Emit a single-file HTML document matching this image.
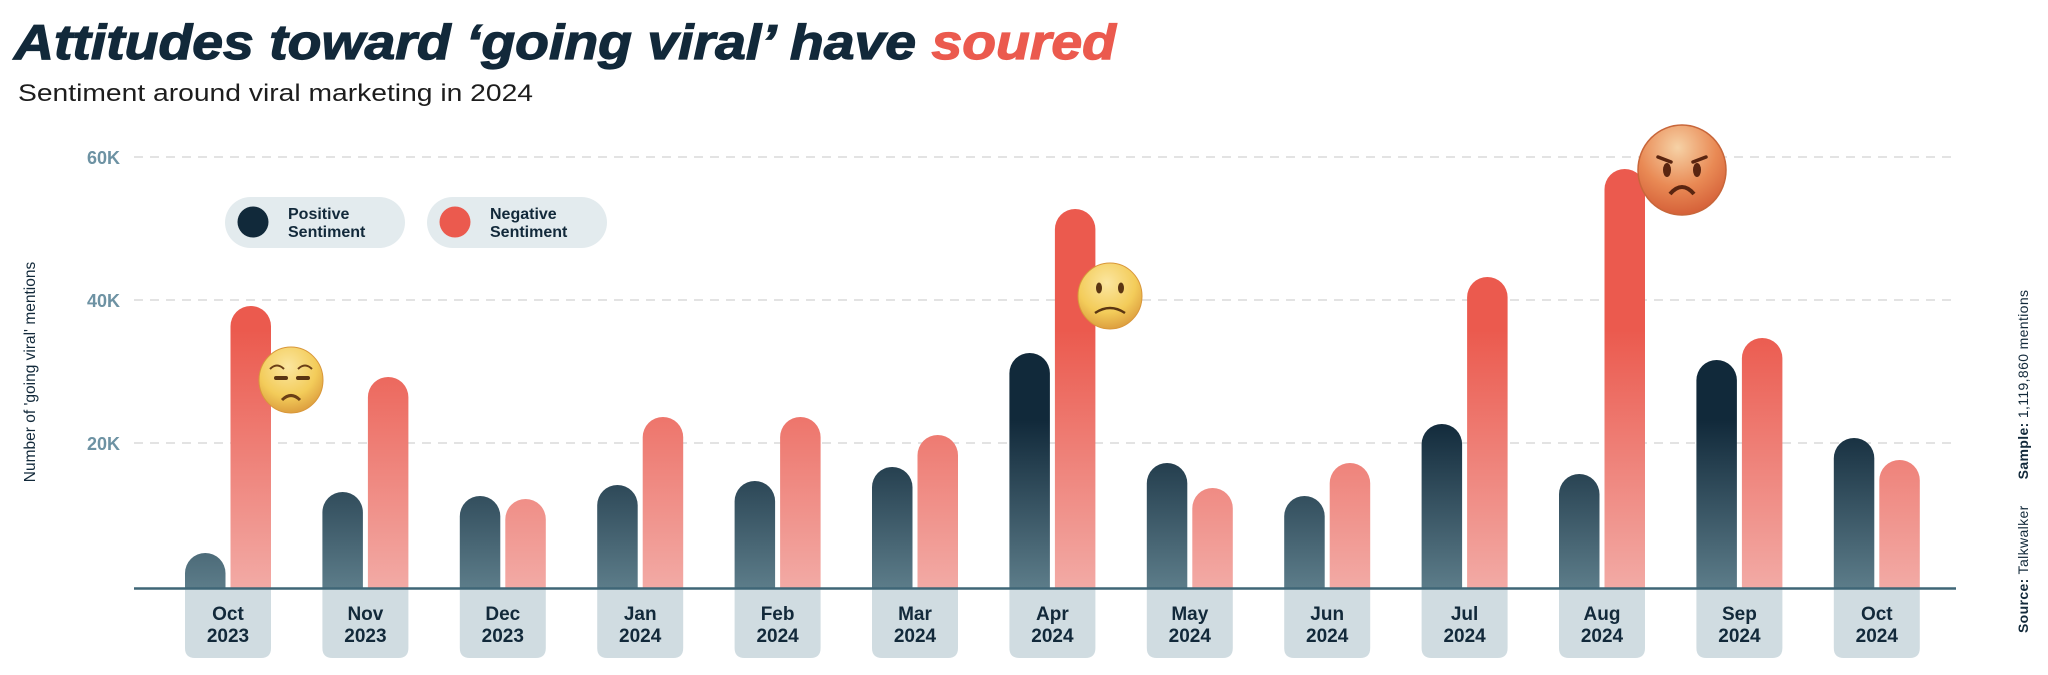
<!DOCTYPE html>
<html><head><meta charset="utf-8"><style>
html,body{margin:0;padding:0;background:#fff;}
svg{display:block;}
text{font-family:"Liberation Sans",sans-serif;}
</style></head><body>
<svg width="2048" height="675" viewBox="0 0 2048 675" xmlns="http://www.w3.org/2000/svg">
<defs>
<linearGradient id="gp" gradientUnits="userSpaceOnUse" x1="0" y1="420" x2="0" y2="588">
<stop offset="0" stop-color="#11293a"/><stop offset="1" stop-color="#5c7c89"/></linearGradient>
<linearGradient id="gn" gradientUnits="userSpaceOnUse" x1="0" y1="330" x2="0" y2="588">
<stop offset="0" stop-color="#eb5a4e"/><stop offset="1" stop-color="#f2aaa5"/></linearGradient>
<radialGradient id="ey" cx="0.45" cy="0.3" r="0.75"><stop offset="0" stop-color="#fbe6a0"/><stop offset="0.6" stop-color="#f3cc5a"/><stop offset="1" stop-color="#d9973a"/></radialGradient>
<radialGradient id="ea" cx="0.45" cy="0.25" r="0.8"><stop offset="0" stop-color="#f6d2a6"/><stop offset="0.55" stop-color="#e98a55"/><stop offset="1" stop-color="#d25a34"/></radialGradient>
</defs>
<text x="14" y="59" font-size="49" font-weight="bold" font-style="italic" fill="#12293a" stroke="#12293a" stroke-width="1.2" textLength="1102" lengthAdjust="spacingAndGlyphs">Attitudes toward ‘going viral’ have <tspan fill="#eb5a4e" stroke="#eb5a4e">soured</tspan></text>
<text x="18" y="101" font-size="24" fill="#1d1d1d" textLength="515" lengthAdjust="spacingAndGlyphs">Sentiment around viral marketing in 2024</text>
<g stroke="#e3e3e3" stroke-width="2" stroke-dasharray="9,7">
<line x1="134" y1="157" x2="1955" y2="157"/><line x1="134" y1="300" x2="1955" y2="300"/><line x1="134" y1="443" x2="1955" y2="443"/></g>
<g font-size="18" font-weight="bold" fill="#6d92a3">
<text x="87" y="164">60K</text><text x="87" y="307">40K</text><text x="87" y="450">20K</text></g>
<text transform="translate(35,372) rotate(-90)" text-anchor="middle" font-size="15.5" fill="#12293a">Number of 'going viral' mentions</text>
<rect x="225" y="197" width="180" height="51" rx="25.5" fill="#e3ebee"/>
<circle cx="253" cy="222" r="15.5" fill="#11293a"/>
<text x="288" y="219" font-size="16" font-weight="bold" fill="#12293a">Positive</text>
<text x="288" y="237" font-size="16" font-weight="bold" fill="#12293a">Sentiment</text>
<rect x="427" y="197" width="180" height="51" rx="25.5" fill="#e3ebee"/>
<circle cx="455" cy="222" r="15.5" fill="#eb5a4e"/>
<text x="490" y="219" font-size="16" font-weight="bold" fill="#12293a">Negative</text>
<text x="490" y="237" font-size="16" font-weight="bold" fill="#12293a">Sentiment</text>
<g id="bars"></g>
<line x1="134" y1="588.5" x2="1956" y2="588.5" stroke="#3f6677" stroke-width="2.5"/>
<g id="emo">
<ellipse cx="291" cy="380" rx="32" ry="33" fill="url(#ey)" stroke="#d9973a" stroke-width="1"/>
<path d="M270 369 q7 -7 14 0 M298 369 q7 -7 14 0" stroke="#6b3f16" stroke-width="2" fill="none"/>
<path d="M276 378 h10 M298 378 h10" stroke="#5a3512" stroke-width="4" stroke-linecap="round"/>
<path d="M282 400 q9 -9 18 0" stroke="#6b3f16" stroke-width="3" fill="none"/>
<ellipse cx="1110" cy="296" rx="32" ry="33" fill="url(#ey)" stroke="#d9973a" stroke-width="1"/>
<ellipse cx="1099" cy="288" rx="3" ry="5.5" fill="#5a3512"/><ellipse cx="1121" cy="288" rx="3" ry="5.5" fill="#5a3512"/>
<path d="M1095 313 q15 -10 30 0" stroke="#5a3512" stroke-width="2.5" fill="none"/>
<ellipse cx="1682" cy="170" rx="44" ry="45" fill="url(#ea)" stroke="#c8663a" stroke-width="1.5"/>
<path d="M1658 157 l13 5 M1706 157 l-13 5" stroke="#5a2510" stroke-width="3.5" stroke-linecap="round"/>
<ellipse cx="1667" cy="170" rx="4" ry="7" fill="#5a2510"/><ellipse cx="1697" cy="170" rx="4" ry="7" fill="#5a2510"/>
<path d="M1670 194 q12 -14 24 0" stroke="#5a2510" stroke-width="4" fill="none"/>
</g>
<text transform="translate(2028,633) rotate(-90)" font-size="14" fill="#12293a" textLength="343" lengthAdjust="spacing"><tspan font-weight="bold">Source:</tspan> Talkwalker<tspan dx="26" font-weight="bold">Sample:</tspan> 1,119,860 mentions</text>
<script>
(function(){
var NS="http://www.w3.org/2000/svg";
var g=document.getElementById("bars");
var d=[["Oct","2023",553,306],["Nov","2023",492,377],["Dec","2023",496,499],["Jan","2024",485,417],["Feb","2024",481,417],["Mar","2024",467,435],["Apr","2024",353,209],["May","2024",463,488],["Jun","2024",496,463],["Jul","2024",424,277],["Aug","2024",474,169],["Sep","2024",360,338],["Oct","2024",438,460]];
function bar(x,top,w,fill){var r=w/2;var p=document.createElementNS(NS,"path");
p.setAttribute("d","M"+x+" 588 V"+(top+r)+" A"+r+" "+r+" 0 0 1 "+(x+w)+" "+(top+r)+" V588 Z");p.setAttribute("fill",fill);g.appendChild(p);}
d.forEach(function(m,i){var x=185+i*137.4;
var b=document.createElementNS(NS,"path");
b.setAttribute("d","M"+x+" 588 H"+(x+86)+" V648 Q"+(x+86)+" 658 "+(x+76)+" 658 H"+(x+10)+" Q"+x+" 658 "+x+" 648 Z");
b.setAttribute("fill","#d0dce1");g.appendChild(b);
bar(x,m[2],40.5,"url(#gp)");bar(x+45.5,m[3],40.5,"url(#gn)");
[[m[0],620],[m[1],642]].forEach(function(t){var e=document.createElementNS(NS,"text");e.setAttribute("x",x+43);e.setAttribute("y",t[1]);
e.setAttribute("text-anchor","middle");e.setAttribute("font-size","19");e.setAttribute("font-weight","bold");e.setAttribute("fill","#12293a");e.textContent=t[0];g.appendChild(e);});
});})();
</script>
</svg>
</body></html>
